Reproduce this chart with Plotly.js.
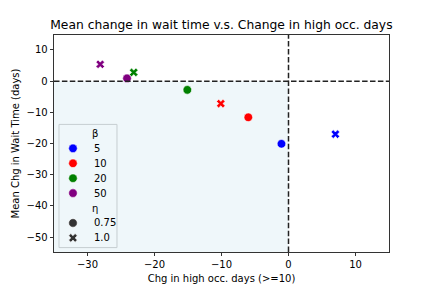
<!DOCTYPE html>
<html>
<head>
<meta charset="utf-8">
<script src="https://cdn.plot.ly/plotly-3.0.1.min.js"></script>
<style>html,body{margin:0;padding:0;background:#fff;}#chart{width:432px;height:288px;}</style>
</head>
<body>
<div id="chart"></div>
<script>
// ---- data ----
const betas = ['5', '10', '20', '50'];
const betaColors = ['blue', 'red', 'green', 'purple'];
const etas = ['0.75', '1.0'];
const etaSymbols = ['circle', 'x'];
const etaSizes = [8.6, 7.6];
// eta = 0.75 (circles), ordered by beta
const chgHighOcc_eta075 = [-1.05, -6.0, -15.1, -24.1];
const chgWait_eta075 = [-20.1, -11.6, -2.8, 0.9];
// eta = 1.0 (crosses), ordered by beta
const chgHighOcc_eta10 = [7.0, -10.1, -23.1, -28.1];
const chgWait_eta10 = [-17.0, -7.2, 2.8, 5.4];
const xTicks = [-30, -20, -10, 0, 10];
const yTicks = [10, 0, -10, -20, -30, -40, -50];
const titleText = 'Mean change in wait time v.s. Change in high occ. days';
const xTitle = 'Chg in high occ. days (>=10)';
const yTitle = 'Mean Chg in Wait Time (days)';

const FONT = 'DejaVu Sans, sans-serif';
const traces = [];
const xs = [chgHighOcc_eta075, chgHighOcc_eta10];
const ys = [chgWait_eta075, chgWait_eta10];
etas.forEach((eta, e) => {
  traces.push({
    type: 'scatter', mode: 'markers', xaxis: 'x', yaxis: 'y',
    x: xs[e], y: ys[e], showlegend: false, hoverinfo: 'skip',
    marker: {color: betaColors, symbol: etaSymbols[e], size: etaSizes[e], opacity: 1,
             line: {color: 'white', width: 0.6}}
  });
});

// ---- manual legend (on auxiliary invisible axes) ----
const legDomX = [0.0149, 0.188];
const legDomY = [0.0203, 0.588];
const legRows = []; // rows: header beta, betas, header eta, etas
legRows.push({label: 'β', header: true});
betas.forEach((b, i) => legRows.push({label: b, color: betaColors[i], symbol: 'circle', size: etaSizes[0]}));
legRows.push({label: 'η', header: true});
etas.forEach((e, i) => legRows.push({label: e, color: '#333333', symbol: etaSymbols[i], size: etaSizes[i]}));

const markerRows = legRows.map((r, i) => ({r, i})).filter(o => !o.r.header);
traces.push({
  type: 'scatter', mode: 'markers', xaxis: 'x2', yaxis: 'y2', showlegend: false, hoverinfo: 'skip',
  x: markerRows.map(() => 0.241), y: markerRows.map(o => o.i),
  marker: {color: markerRows.map(o => o.r.color), symbol: markerRows.map(o => o.r.symbol),
           size: markerRows.map(o => o.r.size), opacity: 1, line: {color: 'white', width: 0.6}}
});

const annotations = legRows.map((r, i) => ({
  xref: 'x2', yref: 'y2', x: r.header ? 0.616 : 0.564, y: i,
  xanchor: r.header ? 'center' : 'left', yanchor: 'middle', showarrow: false,
  text: r.label, font: {family: FONT, size: 10, color: '#000'}
}));

const layout = {
  width: 432, height: 288,
  margin: {l: 54, r: 43, t: 35, b: 36, pad: 0},
  paper_bgcolor: 'white', plot_bgcolor: 'rgba(0,0,0,0)',
  font: {family: FONT, size: 10, color: '#000'},
  title: {text: titleText, font: {family: FONT, size: 12.3, color: '#000'},
          x: 0.5125, xanchor: 'center', y: 0.913, yanchor: 'middle'},
  xaxis: {
    domain: [0, 1], range: [-35, 15], tickmode: 'array', tickvals: xTicks,
    ticks: 'outside', ticklen: 3.5, tickwidth: 0.8, tickcolor: '#000',
    showline: true, linecolor: '#000', linewidth: 0.8, mirror: true,
    showgrid: false, zeroline: false, anchor: 'y',
    tickfont: {family: FONT, size: 10, color: '#000'},
    title: {text: xTitle, font: {family: FONT, size: 10, color: '#000'}, standoff: 5}
  },
  yaxis: {
    domain: [0, 1], range: [-54.8, 14.8], tickmode: 'array', tickvals: yTicks,
    ticks: 'outside', ticklen: 3.5, tickwidth: 0.8, tickcolor: '#000',
    showline: true, linecolor: '#000', linewidth: 0.8, mirror: true,
    showgrid: false, zeroline: false, anchor: 'x',
    tickfont: {family: FONT, size: 10, color: '#000'},
    title: {text: yTitle, font: {family: FONT, size: 10, color: '#000'}, standoff: 4}
  },
  xaxis2: {domain: legDomX, range: [0, 1], visible: false, anchor: 'y2', fixedrange: true},
  yaxis2: {domain: legDomY, range: [7.65, -0.604], visible: false, anchor: 'x2', fixedrange: true},
  shapes: [
    {type: 'rect', xref: 'x', yref: 'y', x0: -35, x1: 0, y0: -54.8, y1: 0, layer: 'below',
     fillcolor: 'rgba(173,216,230,0.2)', line: {width: 0}},
    {type: 'rect', xref: 'x domain', yref: 'y domain', x0: legDomX[0], x1: legDomX[1],
     y0: legDomY[0], y1: legDomY[1], layer: 'below',
     fillcolor: 'rgba(255,255,255,0.8)', line: {color: '#cccccc', width: 1}},
    {type: 'line', xref: 'x', yref: 'y domain', x0: 0, x1: 0, y0: 0, y1: 1, layer: 'above',
     line: {color: '#222', width: 1.5, dash: '5.5px,2.4px'}},
    {type: 'line', xref: 'x domain', yref: 'y', x0: 0, x1: 1, y0: 0, y1: 0, layer: 'above',
     line: {color: '#222', width: 1.5, dash: '5.5px,2.4px'}}
  ],
  annotations: annotations,
  showlegend: false
};

Plotly.newPlot('chart', traces, layout, {displayModeBar: false, staticPlot: true});
</script>
</body>
</html>
